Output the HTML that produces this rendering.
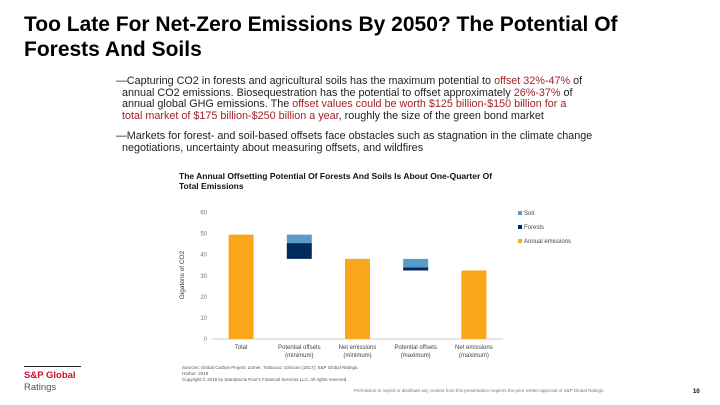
<!DOCTYPE html>
<html><head><meta charset="utf-8"><style>
body{margin:0;width:720px;height:405px;background:#fff;position:relative;overflow:hidden;font-family:"Liberation Sans",sans-serif}
.abs{position:absolute}
#title{left:24px;top:12px;font-size:21px;font-weight:bold;line-height:25px;color:#000;width:620px}
.b{left:116px;font-size:10.8px;line-height:11.6px;color:#222;width:520px;white-space:nowrap}
.r{color:#a0232a}
</style></head><body>
<div id="title" class="abs">Too Late For Net-Zero Emissions By 2050? The Potential Of<br>Forests And Soils</div>
<div class="abs b" style="top:76px">—Capturing CO2 in forests and agricultural soils has the maximum potential to <span class="r">offset 32%-47%</span> of<br>&nbsp;&nbsp;annual CO2 emissions. Biosequestration has the potential to offset approximately <span class="r">26%-37%</span> of<br>&nbsp;&nbsp;annual global GHG emissions. The <span class="r">offset values could be worth $125 billion-$150 billion for a<br>&nbsp;&nbsp;total market of $175 billion-$250 billion a year</span>, roughly the size of the green bond market</div>
<div class="abs b" style="top:131px">—Markets for forest- and soil-based offsets face obstacles such as stagnation in the climate change<br>&nbsp;&nbsp;negotiations, uncertainty about measuring offsets, and wildfires</div>
<svg class="abs" style="left:0;top:0" width="720" height="405" id="chart">
<text x="179" y="179" font-size="8.5" font-weight="bold" fill="#111">The Annual Offsetting Potential Of Forests And Soils Is About One-Quarter Of</text>
<text x="179" y="189" font-size="8.5" font-weight="bold" fill="#111">Total Emissions</text>
<text transform="translate(184,275) rotate(-90)" text-anchor="middle" font-size="6.5" fill="#333">Gigatons of CO2</text>
<g id="g"></g>
<text x="182" y="369" font-size="4.5" fill="#555">Sources: Global Carbon Project; Zomer, Trabucco; Griscom (2017); S&amp;P Global Ratings.</text>
<text x="182" y="375" font-size="4.5" fill="#555">Harbor: 2019</text>
<text x="182" y="381" font-size="4.5" fill="#555">Copyright © 2019 by Standard &amp; Poor's Financial Services LLC. All rights reserved.</text>
<text x="354" y="392" font-size="4.5" fill="#777">Permission to reprint or distribute any content from this presentation requires the prior written approval of S&amp;P Global Ratings.</text>
<text x="693" y="393" font-size="6" font-weight="bold" fill="#000">10</text>
<rect x="24" y="366" width="57" height="1" fill="#222"/>
<text x="24" y="378" font-size="9.5" font-weight="bold" fill="#c8102e">S&amp;P Global</text>
<text x="24" y="390" font-size="9.5" fill="#555">Ratings</text>
</svg>
<script>
const categories=[["Total",""],["Potential offsets","(minimum)"],["Net emissions","(minimum)"],["Potential offsets","(maximum)"],["Net emissions","(maximum)"]];
const annual=[49.5,0,38,0,32.5];
const base=[0,38,0,32.5,0];
const forests=[0,7.5,0,1.5,0];
const soil=[0,4,0,4,0];
const ticks=[0,10,20,30,40,50,60];
const NS="http://www.w3.org/2000/svg",g=document.getElementById('g');
const y0=339,y60=212.5,xL=212,xR=503,bw=25;
const y=v=>y0-(v/60)*(y0-y60);
const cx=i=>xL+(xR-xL)/categories.length*(i+0.5);
function mk(t,a){const e=document.createElementNS(NS,t);for(const k in a)e.setAttribute(k,a[k]);g.appendChild(e);return e;}
ticks.forEach(t=>{const e=mk('text',{x:207,y:y(t)+2,'text-anchor':'end','font-size':6,fill:'#777'});e.textContent=t;

});
const ax=mk('line',{x1:xL,x2:xR,y1:y0,y2:y0,stroke:'#bbb','stroke-width':0.8});


categories.forEach((c,i)=>{
 if(annual[i]>0){const r=mk('rect',{x:cx(i)-bw/2,y:y(annual[i]),width:bw,height:y0-y(annual[i]),fill:'#f9a61a'});
 
 }
 if(forests[i]>0){const r=mk('rect',{x:cx(i)-bw/2,y:y(base[i]+forests[i]),width:bw,height:y(base[i])-y(base[i]+forests[i]),fill:'#002b5c'});
 
 }
 if(soil[i]>0){const t=base[i]+forests[i];const r=mk('rect',{x:cx(i)-bw/2,y:y(t+soil[i]),width:bw,height:y(t)-y(t+soil[i]),fill:'#5b9bc8'});
 
 }
 c.forEach((l,k)=>{if(!l)return;const e=mk('text',{x:cx(i),y:349+k*8,'text-anchor':'middle','font-size':6,fill:'#444'});e.textContent=l;
 
 });
});
[["Soil",'#5b9bc8',215],["Forests",'#002b5c',229],["Annual emissions",'#f9a61a',243]].forEach(([n,c,yy])=>{
 const r=mk('rect',{x:518,y:yy-4,width:4,height:4,fill:c});
 
 
 const t=mk('text',{x:524,y:yy,'font-size':6,fill:'#444'});t.textContent=n;
 
 
});
</script>
</body></html>
